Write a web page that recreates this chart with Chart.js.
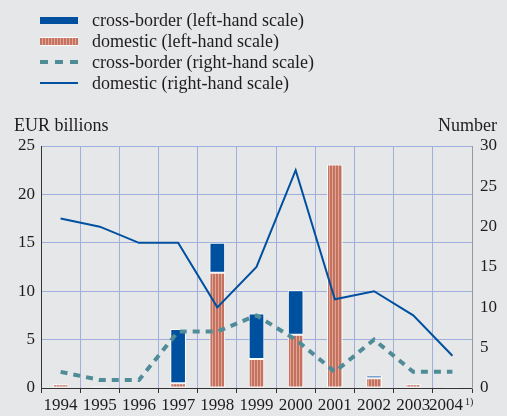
<!DOCTYPE html>
<html><head><meta charset="utf-8">
<script src="https://cdn.jsdelivr.net/npm/chart.js@4"></script>
<style>
html,body{margin:0;padding:0;background:#e6e7e9;}
#wrap{position:relative;width:507px;height:416px;font-family:"Liberation Serif","Times New Roman",serif;color:#1e1c1d;overflow:hidden;}
#c{position:absolute;left:0;top:0;}
.txt{position:absolute;font-size:18px;line-height:20px;white-space:nowrap;}
.sw{position:absolute;left:40px;width:38px;}
</style></head>
<body>
<div id="wrap">
<canvas id="c" width="507" height="416"></canvas>
<div class="sw" style="top:17px;height:7px;background:#0050a0;"></div>
<div class="sw" style="top:37px;height:7px;background:repeating-linear-gradient(90deg,#c4725f 0 2px,#e0a696 2px 3px);border-top:1px solid #fff;border-bottom:1px solid #fff;"></div>
<div class="sw" style="top:60px;height:4px;background:repeating-linear-gradient(90deg,#4f8c98 0 8px,transparent 8px 15px);"></div>
<div class="sw" style="top:82px;height:2px;background:#0050a0;"></div>
<div class="txt" style="left:92px;top:10px;">cross-border (left-hand scale)</div>
<div class="txt" style="left:92px;top:31px;">domestic (left-hand scale)</div>
<div class="txt" style="left:92px;top:52px;">cross-border (right-hand scale)</div>
<div class="txt" style="left:92px;top:73px;">domestic (right-hand scale)</div>
<div class="txt" style="left:14px;top:115px;">EUR billions</div>
<div class="txt" style="left:438px;top:115px;">Number</div>
<div class="txt" style="left:465px;top:397px;font-size:10px;line-height:10px;">1)</div>
</div>
<script>
const years = ['1994','1995','1996','1997','1998','1999','2000','2001','2002','2003','2004'];
const crossBorderValue = [0, 0, 0, 5.6, 3.1, 4.7, 4.6, 0, 0.3, 0, 0];
const domesticValue = [0.4, 0.15, 0.05, 0.5, 11.9, 3.0, 5.5, 23.1, 1.0, 0.4, 0.1];
const crossBorderNumber = [2, 1, 1, 7, 7, 9, 6, 2, 6, 2, 2];
const domesticNumber = [21, 20, 18, 18, 10, 15, 27, 11, 12, 9, 4];
const leftTicks = [0, 5, 10, 15, 20, 25];
const rightTicks = [0, 5, 10, 15, 20, 25, 30];

const pc = document.createElement('canvas');
pc.width = 3; pc.height = 10;
const px = pc.getContext('2d');
px.fillStyle = '#e0a696'; px.fillRect(0,0,3,10);
px.fillStyle = '#c4725f'; px.fillRect(0,0,2,10);
const ctx = document.getElementById('c').getContext('2d');
const stripe = ctx.createPattern(pc, 'repeat');

const fontSpec = {family: '"Liberation Serif","Times New Roman",serif', size: 17};
const gridColor = '#a0aedb';

new Chart(ctx, {
  data: {
    labels: years,
    datasets: [
      {type:'line', data: domesticNumber, yAxisID:'y2', borderColor:'#0050a0', borderWidth:2, pointRadius:0, tension:0, order:1},
      {type:'line', data: crossBorderNumber, yAxisID:'y2', borderColor:'#4f8c98', borderWidth:4, borderDash:[7,6], pointRadius:0, tension:0, order:1},
      {type:'bar', data: domesticValue, yAxisID:'y', backgroundColor: stripe, borderColor:'#ffffff', borderWidth:1, borderSkipped:false, barPercentage:0.4, categoryPercentage:1, stack:'a', order:2},
      {type:'bar', data: crossBorderValue, yAxisID:'y', backgroundColor:'#0050a0', borderColor:'#ffffff', borderWidth:1, borderSkipped:false, barPercentage:0.4, categoryPercentage:1, stack:'a', order:2}
    ]
  },
  options: {
    responsive:false, animation:false, devicePixelRatio:1,
    layout:{padding:{top:146,left:0,right:0,bottom:0}},
    plugins:{legend:{display:false}, tooltip:{enabled:false}},
    scales:{
      x:{stacked:true, offset:true,
         grid:{offset:true, color:gridColor, tickColor:'#333', tickLength:5, lineWidth:1},
         border:{color:'#333', width:1},
         ticks:{font:fontSpec, color:'#1e1c1d', padding:2, maxRotation:0, autoSkip:false,
                callback: (v, i) => i === years.length - 1 ? years[i] + '   ' : years[i]},
         afterFit: s => { s.height = 28; }},
      y:{position:'left', stacked:true, min:0, max:25,
         afterBuildTicks: s => { s.ticks = leftTicks.map(v => ({value:v})); },
         grid:{color:gridColor, drawTicks:false},
         border:{color:'#333', width:1},
         ticks:{font:fontSpec, color:'#1e1c1d', padding:6},
         afterFit: s => { s.width = 41; }},
      y2:{position:'right', min:0, max:30,
         afterBuildTicks: s => { s.ticks = rightTicks.map(v => ({value:v})); },
         grid:{display:false, drawTicks:false},
         border:{color:'#999', width:1},
         ticks:{font:fontSpec, color:'#1e1c1d', padding:8},
         afterFit: s => { s.width = 35; }}
    }
  }
});
</script>
</body></html>
